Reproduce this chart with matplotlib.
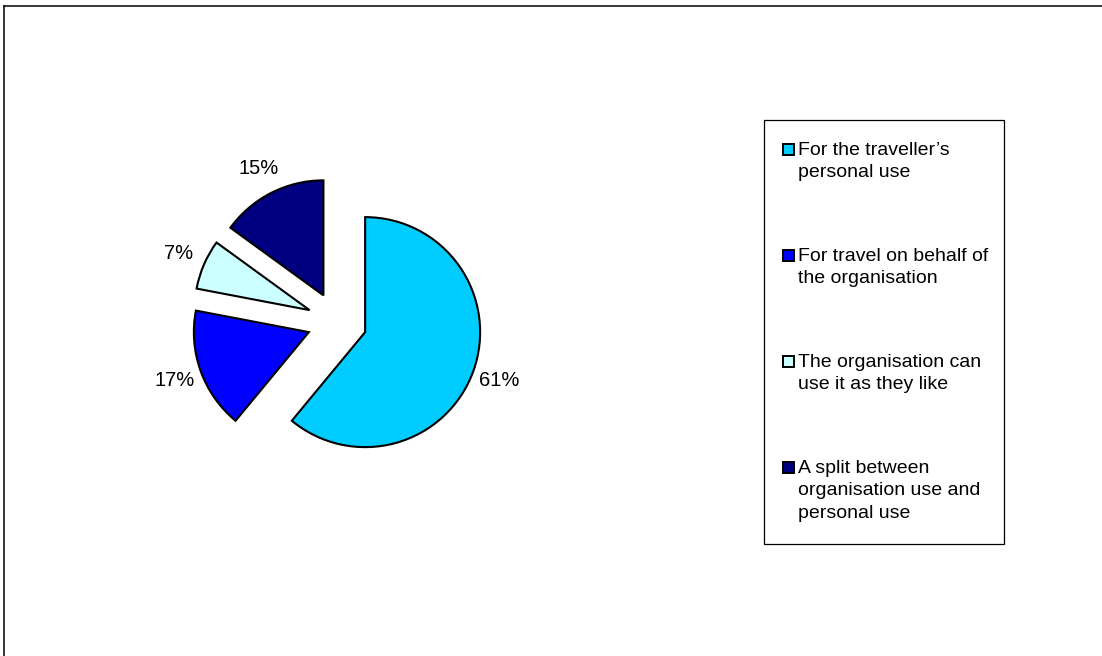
import matplotlib
matplotlib.use("Agg")
import matplotlib.pyplot as plt
from matplotlib.patches import Rectangle
from matplotlib.lines import Line2D

# Survey shares (percent), clockwise from 12 o'clock
categories = [
    "For the traveller\u2019s\npersonal use",
    "For travel on behalf of\nthe organisation",
    "The organisation can\nuse it as they like",
    "A split between\norganisation use and\npersonal use",
]
shares = [61, 17, 7, 15]
colors = ["#00CCFF", "#0000FF", "#CCFFFF", "#000080"]

W, H, DPI = 1102, 656, 100
FONT = "Liberation Sans"
FS = 14

fig = plt.figure(figsize=(W / DPI, H / DPI), dpi=DPI)
fig.patch.set_facecolor("white")


def fx(px):
    return px / W


def fy(py):
    return 1 - py / H


# Outer chart-area border (left and top edges visible)
fig.add_artist(Line2D([fx(4), fx(4)], [fy(5.5), fy(H + 5)],
                      transform=fig.transFigure, color="black", lw=1.1))
fig.add_artist(Line2D([fx(4), fx(W + 5)], [fy(5.5), fy(5.5)],
                      transform=fig.transFigure, color="black", lw=1.1))

# Pie axes: centre (337, 322) px, radius 115 px
cx, cy, R, half = 337, 322, 115, 200
ax = fig.add_axes([fx(cx - half), fy(cy + half), 2 * half / W, 2 * half / H])
wedges, _, autotexts = ax.pie(
    shares,
    explode=[0.26] * len(shares),
    colors=colors,
    startangle=90,
    counterclock=False,
    autopct="%1.0f%%",
    pctdistance=1.24,
    wedgeprops=dict(edgecolor="black", linewidth=1.5),
    textprops=dict(fontsize=FS + 0.5, family=FONT, color="black"),
)
L = half / R
ax.set_xlim(-L, L)
ax.set_ylim(-L, L)
ax.set_aspect("equal", adjustable="box")
ax.axis("off")

# Legend drawn as a boxed list of swatches and wrapped labels
box_l, box_t, box_r, box_b = 763.5, 119.5, 1004, 544
fig.add_artist(Rectangle((fx(box_l), fy(box_b)), fx(box_r) - fx(box_l),
                         fy(box_t) - fy(box_b), transform=fig.transFigure,
                         facecolor="white", edgecolor="black", lw=0.9))

first_baseline, entry_step, line_step = 155, 106, 22.3
sq = 11
for i, (label, col) in enumerate(zip(categories, colors)):
    base = first_baseline + i * entry_step
    sq_top = base - 11
    fig.add_artist(Rectangle((fx(783), fy(sq_top + sq)), sq / W, sq / H,
                             transform=fig.transFigure, facecolor=col,
                             edgecolor="black", lw=1.4))
    for j, line in enumerate(label.split("\n")):
        fig.text(fx(798), fy(base + j * line_step), line, fontsize=FS,
                 family=FONT, color="black", ha="left", va="baseline")

fig.savefig("out.png", dpi=DPI, facecolor="white")
